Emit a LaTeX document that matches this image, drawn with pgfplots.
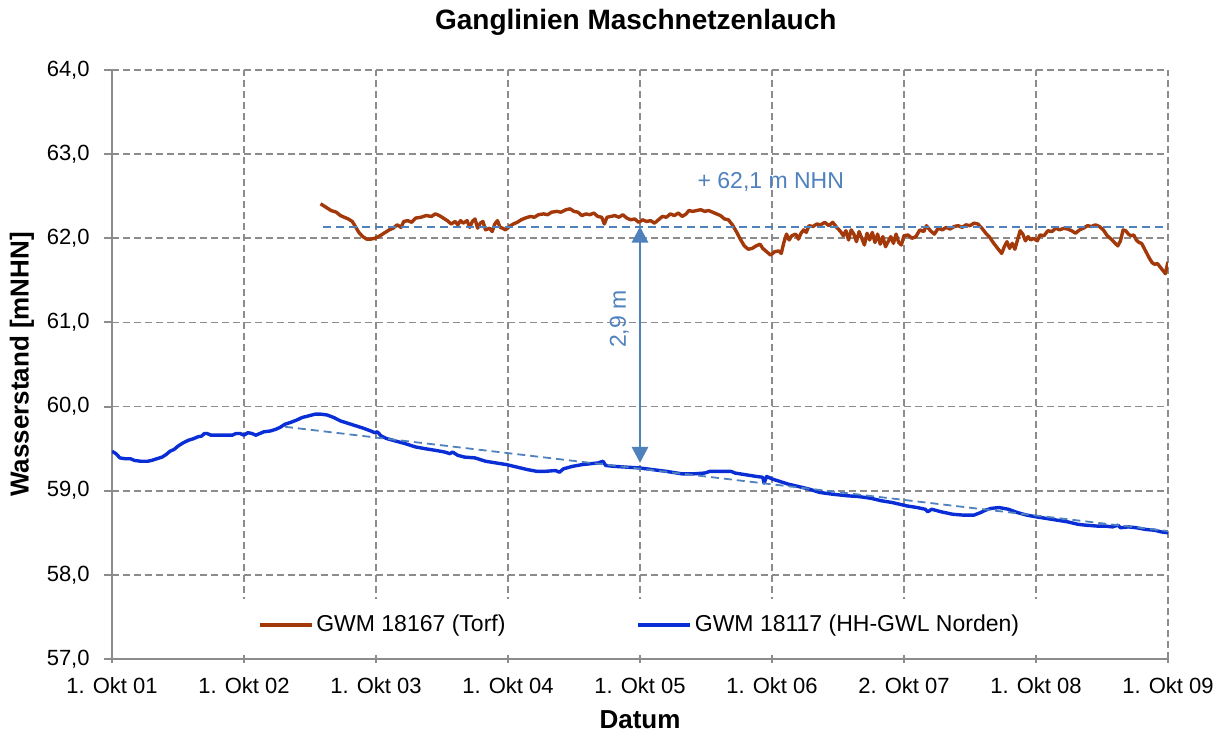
\documentclass[border=0pt]{standalone}
\usepackage{fontspec}
\setmainfont{Liberation Sans}
\usepackage{pgfplots}
\pgfplotsset{compat=1.18}
\usetikzlibrary{arrows.meta}
\definecolor{torf}{HTML}{A3390B}
\definecolor{gwl}{HTML}{0A2ED6}
\definecolor{anno}{HTML}{4F81BD}
\definecolor{gridc}{HTML}{8C8C8C}
\begin{document}
\begin{tikzpicture}
\path[use as bounding box] (-56pt,-37pt) rectangle (556.5pt,329.5pt);
\begin{axis}[
  at={(0pt,0pt)}, anchor=south west,
  scale only axis, width=528pt, height=294.5pt,
  xmin=0, xmax=8, ymin=57, ymax=64,
  xtick={0,1,2,3,4,5,6,7,8},
  xticklabels={1. Okt 01,1. Okt 02,1. Okt 03,1. Okt 04,1. Okt 05,1. Okt 06,2. Okt 07,1. Okt 08,1. Okt 09},
  ytick={57,58,59,60,61,62,63,64},
  axis x line*=bottom, axis y line*=left,
  axis line style={gridc, line width=1pt, -},
  grid=major,
  major grid style={gridc, line width=0.9pt, dash pattern=on 3.5pt off 2pt},
  tick style={gridc, line width=1pt},
  major tick length=4pt,
  xtick align=center, ytick align=outside,
  /pgf/number format/assume math mode=true,
  yticklabel style={/pgf/number format/fixed, /pgf/number format/fixed zerofill, /pgf/number format/precision=1, /pgf/number format/use comma, anchor=east, inner sep=0pt},
  xticklabel style={anchor=north, inner sep=0pt},
  yticklabel shift=7pt,
  xticklabel shift=7pt,
  ticklabel style={font=\fontsize{11}{13}\selectfont},
  title={Ganglinien Maschnetzenlauch},
  every axis title/.style={at={(axis description cs:0.496,1.0815)}, anchor=center, font=\fontsize{14}{16}\selectfont\bfseries},
  xlabel={Datum}, ylabel={Wasserstand [mNHN]},
  every axis x label/.style={at={(axis description cs:0.5,-0.1036)}, anchor=center, font=\fontsize{13}{15}\selectfont\bfseries},
  every axis y label/.style={at={(axis description cs:-0.0852,0.5)}, rotate=90, anchor=center, font=\fontsize{13}{15}\selectfont\bfseries},
  legend style={at={(axis description cs:0.5,0.0577)}, anchor=center, draw=none, fill=none,
    font=\fontsize{11.5}{13}\selectfont, nodes={inner sep=1.5pt},
    /tikz/every even column/.append style={column sep=64pt}},
  legend columns=2,
  legend image code/.code={\draw[#1] (0pt,0pt) -- (26pt,0pt);},
]
\fill[white] (rel axis cs:0.002,0.0075) rectangle (rel axis cs:0.998,0.1014);

\addplot[torf, line width=1.7pt, line join=round] coordinates {
(1.58,62.41) (1.62,62.37) (1.66,62.33) (1.70,62.31) (1.73,62.27) (1.76,62.25) (1.79,62.23) (1.82,62.20)
(1.84,62.15) (1.87,62.07) (1.90,62.02) (1.93,61.99) (1.96,61.99) (1.99,62.00) (2.02,62.02) (2.06,62.06)
(2.10,62.10) (2.13,62.12) (2.16,62.16) (2.19,62.13) (2.21,62.20) (2.24,62.21) (2.27,62.19) (2.30,62.24)
(2.34,62.25) (2.38,62.27) (2.42,62.26) (2.45,62.29) (2.48,62.27) (2.51,62.24) (2.54,62.21) (2.57,62.17)
(2.60,62.20) (2.62,62.16) (2.64,62.21) (2.66,62.18) (2.69,62.21) (2.71,62.13) (2.73,62.20) (2.75,62.23)
(2.77,62.12) (2.79,62.18) (2.81,62.20) (2.83,62.10) (2.86,62.12) (2.88,62.08) (2.90,62.17) (2.92,62.21)
(2.94,62.13) (2.96,62.12) (2.98,62.10) (3.01,62.14) (3.04,62.17) (3.07,62.19) (3.10,62.22) (3.13,62.24)
(3.17,62.26) (3.20,62.25) (3.23,62.28) (3.27,62.29) (3.30,62.28) (3.33,62.31) (3.37,62.32) (3.40,62.31)
(3.44,62.34) (3.47,62.35) (3.50,62.32) (3.53,62.31) (3.56,62.27) (3.59,62.29) (3.62,62.28) (3.65,62.30)
(3.68,62.26) (3.71,62.25) (3.73,62.17) (3.75,62.25) (3.78,62.26) (3.81,62.27) (3.84,62.25) (3.87,62.28)
(3.90,62.24) (3.93,62.22) (3.96,62.23) (3.99,62.19) (4.02,62.22) (4.05,62.20) (4.08,62.21) (4.11,62.18)
(4.14,62.22) (4.17,62.26) (4.20,62.25) (4.23,62.29) (4.26,62.27) (4.29,62.30) (4.32,62.26) (4.35,62.29)
(4.37,62.33) (4.40,62.32) (4.43,62.33) (4.46,62.34) (4.49,62.32) (4.52,62.33) (4.55,62.31) (4.58,62.29)
(4.61,62.27) (4.64,62.23) (4.67,62.22) (4.70,62.16) (4.73,62.08) (4.76,61.99) (4.79,61.91) (4.82,61.87)
(4.85,61.88) (4.88,61.91) (4.91,61.93) (4.93,61.88) (4.96,61.84) (4.99,61.80) (5.02,61.84) (5.05,61.85)
(5.07,61.82) (5.09,61.95) (5.11,62.05) (5.13,61.98) (5.15,62.03) (5.18,62.05) (5.20,61.99) (5.22,62.06)
(5.24,62.10) (5.26,62.07) (5.28,62.15) (5.31,62.14) (5.34,62.17) (5.37,62.16) (5.40,62.19) (5.43,62.15)
(5.46,62.19) (5.49,62.13) (5.52,62.08) (5.54,62.03) (5.56,62.09) (5.58,61.98) (5.60,62.10) (5.62,62.05)
(5.64,61.96) (5.66,62.08) (5.68,62.00) (5.70,61.92) (5.72,62.06) (5.74,61.98) (5.76,62.07) (5.78,61.95)
(5.80,62.05) (5.82,61.93) (5.84,62.02) (5.86,61.90) (5.88,61.96) (5.90,62.02) (5.92,61.94) (5.94,62.05)
(5.96,61.95) (5.98,61.92) (6.00,62.03) (6.03,62.04) (6.06,62.00) (6.09,62.02) (6.12,62.10) (6.15,62.08)
(6.17,62.15) (6.20,62.09) (6.23,62.05) (6.26,62.12) (6.29,62.10) (6.32,62.13) (6.35,62.11) (6.38,62.14)
(6.41,62.15) (6.44,62.13) (6.47,62.16) (6.50,62.15) (6.53,62.18) (6.56,62.17) (6.59,62.12) (6.62,62.06)
(6.65,62.01) (6.68,61.94) (6.70,61.90) (6.72,61.86) (6.74,61.82) (6.76,61.90) (6.78,61.96) (6.80,61.88)
(6.82,61.94) (6.84,61.87) (6.86,61.98) (6.88,62.09) (6.90,62.05) (6.92,61.97) (6.94,62.02) (6.96,61.98)
(6.98,62.00) (7.01,61.97) (7.03,62.04) (7.06,62.03) (7.09,62.09) (7.12,62.08) (7.15,62.12) (7.18,62.10)
(7.21,62.12) (7.24,62.11) (7.27,62.09) (7.30,62.06) (7.33,62.10) (7.36,62.12) (7.39,62.15) (7.42,62.14)
(7.45,62.16) (7.48,62.14) (7.51,62.10) (7.54,62.03) (7.57,61.99) (7.60,61.94) (7.62,61.91) (7.64,61.97)
(7.66,62.10) (7.68,62.09) (7.70,62.05) (7.72,62.03) (7.74,62.04) (7.76,61.98) (7.78,61.95) (7.80,61.94)
(7.82,61.88) (7.84,61.82) (7.86,61.76) (7.88,61.71) (7.90,61.69) (7.92,61.70) (7.94,61.66) (7.96,61.62)
(7.98,61.58) (8.00,61.72)
};
\addlegendentry{GWM 18167 (Torf)}

\addplot[gwl, line width=1.7pt, line join=round] coordinates {
(0.00,59.47) (0.03,59.44) (0.06,59.39) (0.10,59.38) (0.14,59.38) (0.17,59.36) (0.22,59.35) (0.27,59.35)
(0.30,59.36) (0.34,59.38) (0.38,59.40) (0.41,59.43) (0.44,59.47) (0.47,59.49) (0.50,59.53) (0.54,59.57)
(0.58,59.60) (0.62,59.62) (0.65,59.64) (0.68,59.65) (0.70,59.68) (0.72,59.68) (0.75,59.66) (0.80,59.66)
(0.85,59.66) (0.91,59.66) (0.94,59.68) (0.97,59.68) (1.00,59.66) (1.03,59.69) (1.06,59.68) (1.09,59.66)
(1.12,59.68) (1.15,59.70) (1.20,59.71) (1.24,59.73) (1.27,59.75) (1.31,59.79) (1.35,59.81) (1.40,59.84)
(1.44,59.87) (1.49,59.89) (1.54,59.91) (1.58,59.91) (1.63,59.90) (1.68,59.87) (1.73,59.83) (1.79,59.80)
(1.85,59.77) (1.91,59.74) (1.96,59.71) (1.99,59.69) (2.01,59.70) (2.04,59.65) (2.08,59.62) (2.15,59.59)
(2.22,59.56) (2.30,59.52) (2.37,59.50) (2.45,59.48) (2.52,59.46) (2.56,59.44) (2.58,59.46) (2.62,59.42)
(2.67,59.40) (2.75,59.39) (2.83,59.35) (2.91,59.33) (2.99,59.31) (3.07,59.28) (3.15,59.25) (3.22,59.23)
(3.28,59.23) (3.36,59.24) (3.39,59.22) (3.42,59.26) (3.49,59.29) (3.56,59.31) (3.62,59.32) (3.68,59.33)
(3.72,59.35) (3.74,59.30) (3.80,59.29) (3.90,59.28) (4.00,59.27) (4.10,59.25) (4.20,59.23) (4.32,59.20)
(4.40,59.20) (4.49,59.21) (4.53,59.23) (4.60,59.23) (4.69,59.23) (4.72,59.21) (4.80,59.19) (4.88,59.17)
(4.93,59.16) (4.94,59.09) (4.96,59.17) (5.00,59.14) (5.04,59.12) (5.12,59.08) (5.20,59.05) (5.28,59.02)
(5.36,58.98) (5.45,58.96) (5.57,58.94) (5.66,58.93) (5.75,58.91) (5.83,58.88) (5.91,58.86) (6.02,58.82)
(6.10,58.80) (6.16,58.78) (6.18,58.75) (6.21,58.78) (6.28,58.75) (6.37,58.72) (6.45,58.71) (6.53,58.71)
(6.58,58.74) (6.62,58.77) (6.66,58.79) (6.72,58.80) (6.79,58.78) (6.86,58.74) (6.93,58.71) (7.00,58.69)
(7.08,58.67) (7.16,58.65) (7.24,58.63) (7.32,58.60) (7.38,58.59) (7.46,58.58) (7.52,58.58) (7.58,58.57)
(7.62,58.59) (7.64,58.56) (7.70,58.57) (7.76,58.56) (7.83,58.54) (7.90,58.53) (7.95,58.51) (8.00,58.50)
};
\addlegendentry{GWM 18117 (HH-GWL Norden)}

\addplot[anno, line width=1pt, dash pattern=on 4pt off 2.5pt, forget plot] coordinates {(1.60,62.14) (8.00,62.14)};
\addplot[anno, line width=0.9pt, dash pattern=on 4pt off 2.5pt, forget plot] coordinates {(1.31,59.76) (8.00,58.52)};
\addplot[anno, line width=1.4pt, {Triangle[width=8pt,length=8pt]}-{Triangle[width=8pt,length=8pt]}, forget plot] coordinates {(4,62.14) (4,59.33)};

\node[anno, rotate=90, font=\fontsize{11.5}{13}\selectfont] at (axis cs:3.843,61.04) {2,9 m};
\node[anno, font=\fontsize{11.5}{13}\selectfont] at (axis cs:4.991,62.67) {+ 62,1 m NHN};
\end{axis}
\end{tikzpicture}
\end{document}
